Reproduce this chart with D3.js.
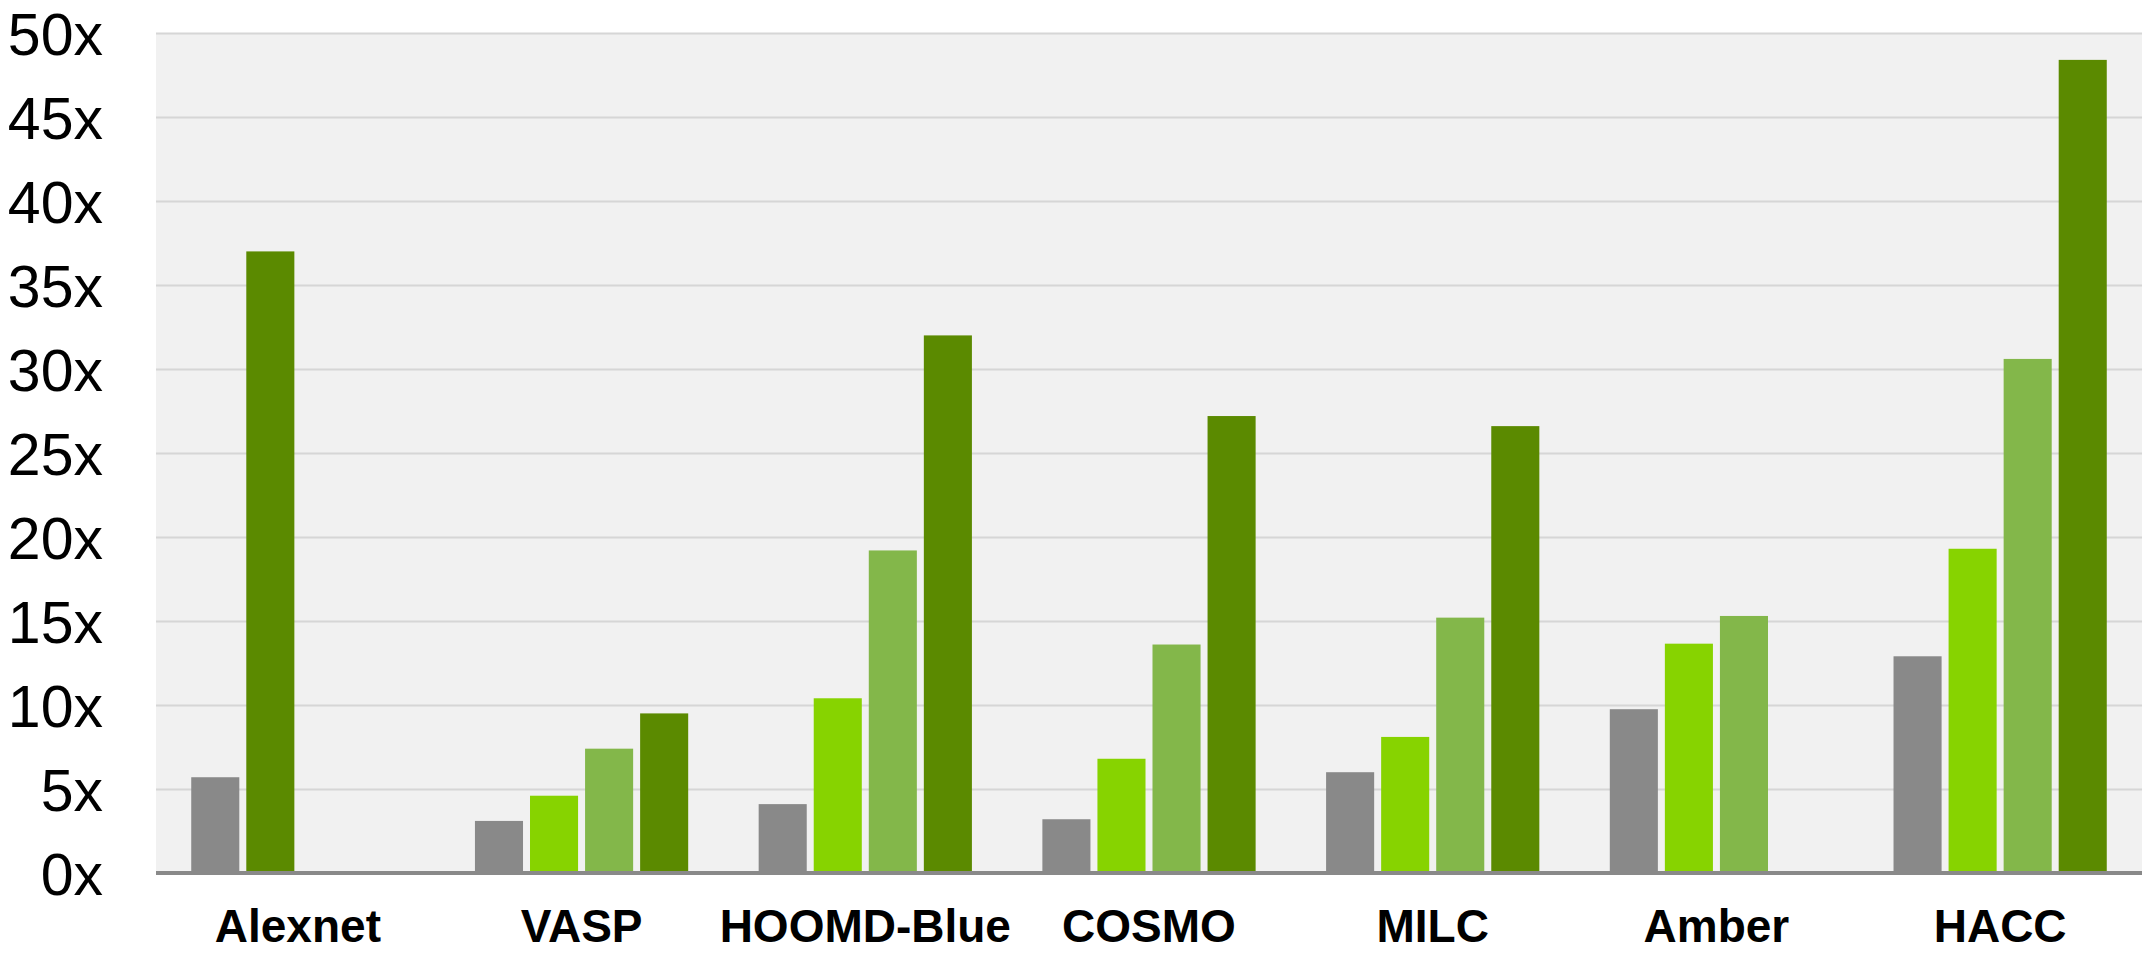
<!DOCTYPE html>
<html>
<head>
<meta charset="utf-8">
<script src="https://cdn.jsdelivr.net/npm/d3@7"></script>
<style>
    html, body { margin: 0; padding: 0; background: #ffffff; }
    #chart-container { width: 2148px; height: 953px; overflow: hidden; }
</style>
</head>
<body>
<div id="chart-container"></div>
<script>
// Data
const categories = ["Alexnet", "VASP", "HOOMD-Blue", "COSMO", "MILC", "Amber", "HACC"];
const grayValues = [5.7, 3.1, 4.1, 3.2, 6.0, 9.75, 12.9];
const limeValues = [null, 4.6, 10.4, 6.8, 8.1, 13.65, 19.3];
const midValues = [null, 7.4, 19.2, 13.6, 15.2, 15.3, 30.6];
const darkValues = [37.0, 9.5, 32.0, 27.2, 26.6, null, 48.4];
const yTicks = [0, 5, 10, 15, 20, 25, 30, 35, 40, 45, 50];

const series = [
    { key: "gray", values: grayValues, color: "#898989" },
    { key: "lime", values: limeValues, color: "#87d300" },
    { key: "mid", values: midValues, color: "#83b74a" },
    { key: "dark", values: darkValues, color: "#5b8a00" }
];

// Set dimensions
const width = 2148;
const height = 953;
const margin = { top: 33, right: 6, bottom: 80, left: 156 };
const plotW = width - margin.left - margin.right;
const plotH = height - margin.top - margin.bottom;

const svg = d3.select("#chart-container")
    .append("svg")
    .attr("width", width)
    .attr("height", height)
    .append("g")
    .attr("transform", `translate(${margin.left}, ${margin.top})`);

// Scales
const x0 = d3.scaleBand()
    .domain(categories)
    .range([0, plotW])
    .padding(0);

const x1 = d3.scaleBand()
    .domain([0, 1, 2, 3])
    .range([0, x0.bandwidth()])
    .paddingInner(0.127)
    .paddingOuter(0.64);

const y = d3.scaleLinear()
    .domain([0, 50])
    .range([plotH, 0]);

// Plot background
svg.append("rect")
    .attr("x", 0)
    .attr("y", 0)
    .attr("width", plotW)
    .attr("height", plotH)
    .attr("fill", "#f1f1f1");

// Y axis with gridlines
const yAxis = svg.append("g")
    .call(d3.axisLeft(y)
        .tickValues(yTicks)
        .tickFormat(d => d + "x")
        .tickSize(-plotW)
        .tickPadding(53));

yAxis.select(".domain").remove();
yAxis.selectAll(".tick line")
    .attr("stroke", "#d6d6d6")
    .attr("stroke-width", 2);
yAxis.selectAll(".tick text")
    .attr("fill", "#000")
    .attr("dy", "0.36em")
    .style("font-family", "'Liberation Sans', Arial, sans-serif")
    .style("font-size", "59px");

// Bars: non-empty values are packed left inside each group
const bars = [];
categories.forEach((cat, i) => {
    let slot = 0;
    series.forEach(s => {
        const v = s.values[i];
        if (v != null) {
            bars.push({ category: cat, slot: slot, value: v, color: s.color });
            slot++;
        }
    });
});

svg.selectAll(".bar")
    .data(bars)
    .enter()
    .append("rect")
    .attr("class", "bar")
    .attr("x", d => x0(d.category) + x1(d.slot))
    .attr("y", d => y(d.value))
    .attr("width", x1.bandwidth())
    .attr("height", d => y(0) - y(d.value))
    .attr("fill", d => d.color);

// Baseline
svg.append("line")
    .attr("x1", 0)
    .attr("x2", plotW)
    .attr("y1", y(0))
    .attr("y2", y(0))
    .attr("stroke", "#898989")
    .attr("stroke-width", 4);

// X axis labels
const xAxis = svg.append("g")
    .attr("transform", `translate(0, ${plotH})`)
    .call(d3.axisBottom(x0).tickSize(0));

xAxis.select(".domain").remove();
xAxis.selectAll(".tick text")
    .attr("fill", "#000")
    .attr("dy", null)
    .attr("y", 69)
    .style("font-family", "'Liberation Sans', Arial, sans-serif")
    .style("font-size", "46px")
    .style("font-weight", "bold");
</script>
</body>
</html>
